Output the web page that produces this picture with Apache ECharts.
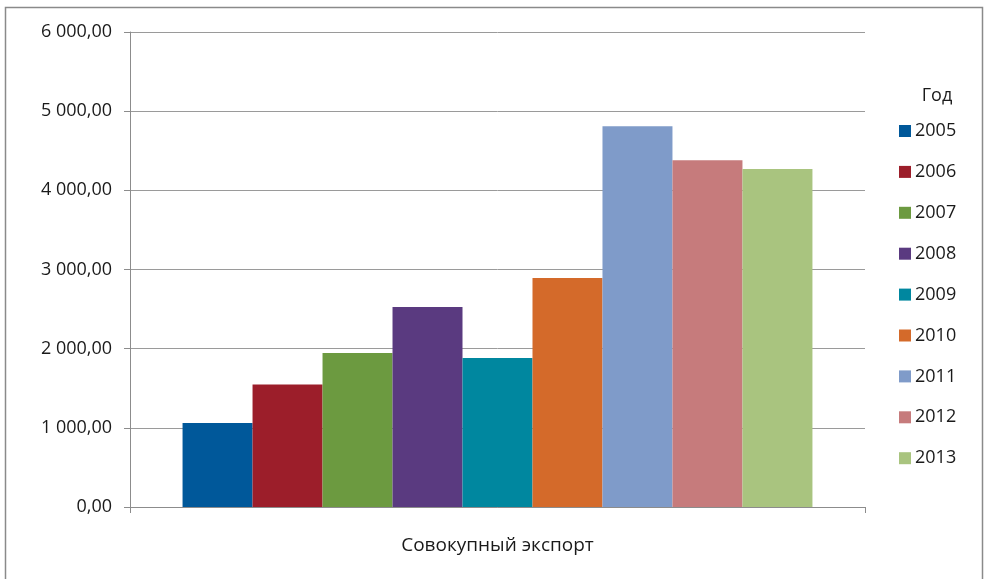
<!DOCTYPE html>
<html><head><meta charset="utf-8">
<script src="https://cdn.jsdelivr.net/npm/echarts@6/dist/echarts.min.js"></script>
<style>html,body{margin:0;padding:0;background:#fff}#c{width:987px;height:579px}</style>
</head><body><div id="c"></div>
<script>
const categories = ['Совокупный экспорт'];
const years = ['2005','2006','2007','2008','2009','2010','2011','2012','2013'];
const values = [1061, 1546, 1946, 2527, 1883, 2894, 4810, 4381, 4271];
const colors = ['#00589a','#9c1e2a','#6c9a40','#5a3a80','#00879f','#d46a2a','#7f9bc9','#c67b7c','#a9c47f'];
const yTicks = { min: 0, max: 6000, interval: 1000 };
const legendTitle = 'Год';
const FONT = '"Open Sans", "Noto Sans", sans-serif';

function fmt(v){
  const s = Math.round(v).toString().replace(/\B(?=(\d{3})+(?!\d))/g, ' ');
  return s + ',00';
}

const chart = echarts.init(document.getElementById('c'), null, {renderer:'canvas'});
chart.setOption({
  animation: false,
  textStyle: { fontFamily: FONT },
  graphic: [
    { type:'rect', shape:{x:5.5, y:7.5, width:977, height:600}, style:{fill:'none', stroke:'#8a8a8a', lineWidth:1.5}, silent:true },
    { type:'text', x: 937, y: 96, style:{ text: legendTitle, font: '18px ' + FONT, fill:'#1a1a1a', align:'center', verticalAlign:'middle' } }
  ],
  grid: { left: 130, right: 122, top: 32, bottom: 72, containLabel: false },
  legend: {
    orient: 'vertical', left: 894, top: 117,
    itemWidth: 12, itemHeight: 12, itemGap: 22.9,
    icon: 'rect',
    textStyle: { fontSize: 18, lineHeight: 18, color: '#1a1a1a', fontFamily: FONT, padding:[0,0,0,-1] },
    data: years
  },
  xAxis: {
    type: 'category', data: categories,
    axisLine: { lineStyle: { color: '#8c8c8c', width: 1 } },
    axisTick: { show: true, length: 6, lineStyle: { color: '#8c8c8c' } },
    axisLabel: { fontSize: 19, color: '#1a1a1a', margin: 29, fontFamily: FONT }
  },
  yAxis: {
    type: 'value', min: yTicks.min, max: yTicks.max, interval: yTicks.interval,
    axisLine: { show: true, lineStyle: { color: '#8c8c8c', width: 1 } },
    axisTick: { show: true, length: 6, lineStyle: { color: '#8c8c8c' } },
    splitLine: { lineStyle: { color: '#9a9a9a', width: 1 } },
    axisLabel: { fontSize: 18, color: '#1a1a1a', margin: 18, fontFamily: FONT, formatter: fmt }
  },
  series: years.map((y, i) => ({
    name: y, type: 'bar', data: [values[i]],
    itemStyle: { color: colors[i] },
    barGap: '0%', barCategoryGap: '14.3%'
  }))
});
</script></body></html>
